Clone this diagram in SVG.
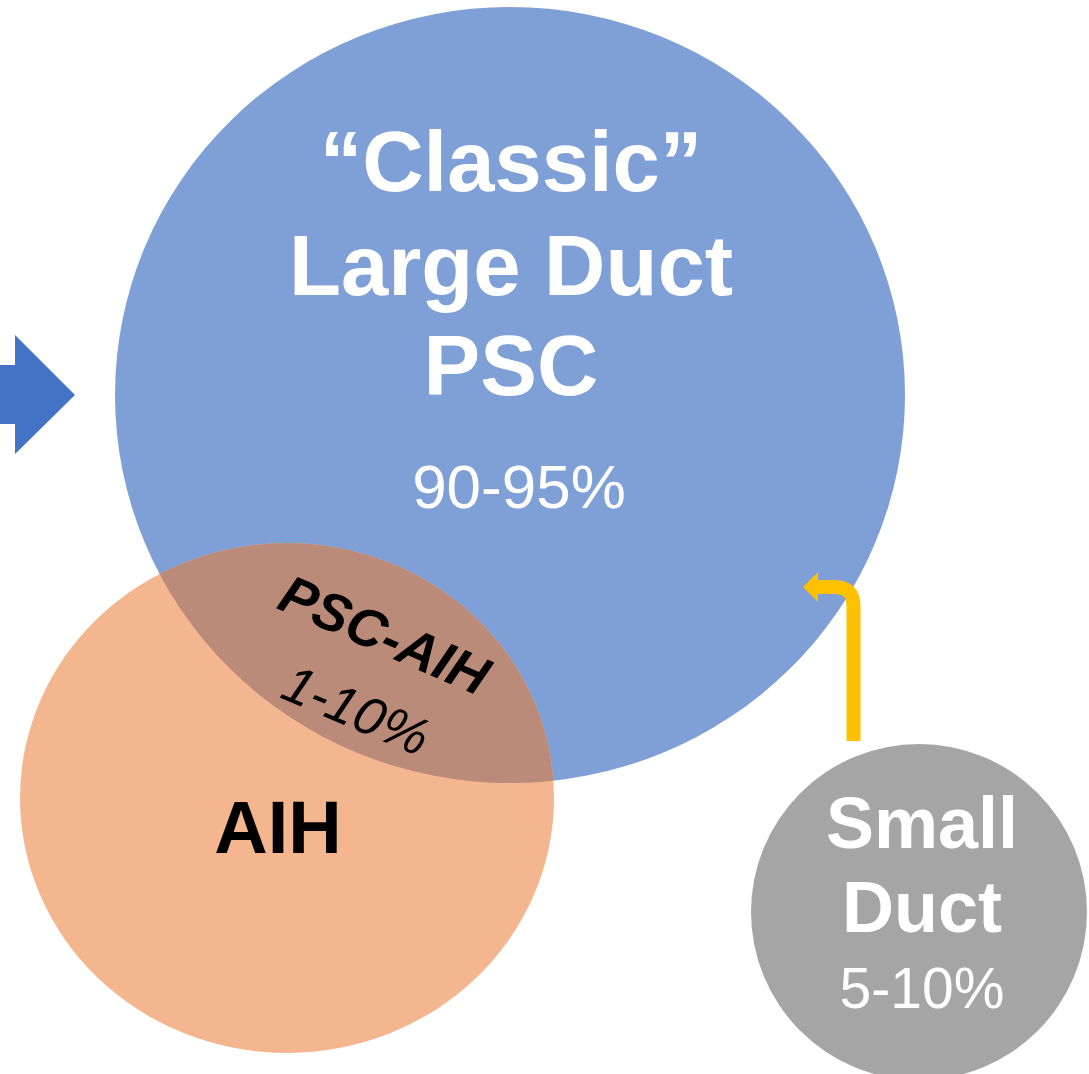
<svg xmlns="http://www.w3.org/2000/svg" width="1089" height="1074" viewBox="0 0 1089 1074">
<style>
.b{font-family:"Liberation Sans",Arial,sans-serif;font-weight:bold;text-anchor:middle}
.r{font-family:"Liberation Sans",Arial,sans-serif;text-anchor:middle}
.w{fill:#FFFFFF}
.k{fill:#000000}
</style>
<defs>
<clipPath id="clipBlue"><ellipse cx="510" cy="395" rx="395" ry="388"/></clipPath>
</defs>
<rect width="1089" height="1074" fill="#FFFFFF"/>
<g id="arrow-left">
<polygon points="0,365 15,365 15,335 75,395 15,454 15,424 0,424" fill="#4472C4"/>
</g>
<g id="large-duct">
<ellipse cx="510" cy="395" rx="395" ry="388" fill="#7FA0D6"/>
</g>
<g id="aih">
<ellipse cx="287" cy="798" rx="267" ry="255" fill="#F4B68F"/>
</g>
<g id="overlap">
<ellipse cx="287" cy="798" rx="267" ry="255" fill="#BB8B7A" clip-path="url(#clipBlue)"/>
</g>
<g id="small-duct">
<circle cx="919" cy="912" r="168" fill="#A5A5A5"/>
</g>
<g id="connectors">
<path d="M853.5,741 V606 Q853.5,587 834.5,587 H816" fill="none" stroke="#FFC000" stroke-width="14"/>
<polygon points="803,587 818,572 818,602" fill="#FFC000"/>
</g>
<g id="labels">
<text class="b w" x="511" y="191" font-size="85">“Classic”</text>
<text class="b w" x="511" y="295" font-size="85">Large Duct</text>
<text class="b w" x="511" y="395" font-size="85">PSC</text>
<text class="r w" x="519" y="508" font-size="62">90-95%</text>
<text class="b k" x="278" y="853" font-size="74">AIH</text>
<text class="b w" x="922" y="848" font-size="72">Small</text>
<text class="b w" x="922" y="932" font-size="72">Duct</text>
<text class="r w" x="922" y="1008" font-size="57">5-10%</text>
<text class="b k" x="377" y="652" font-size="54" font-style="italic" transform="rotate(23.5 377 652)">PSC-AIH</text>
<text class="r k" x="349" y="727" font-size="53" font-style="italic" transform="rotate(23 349 727)">1-10%</text>
</g>
</svg>
